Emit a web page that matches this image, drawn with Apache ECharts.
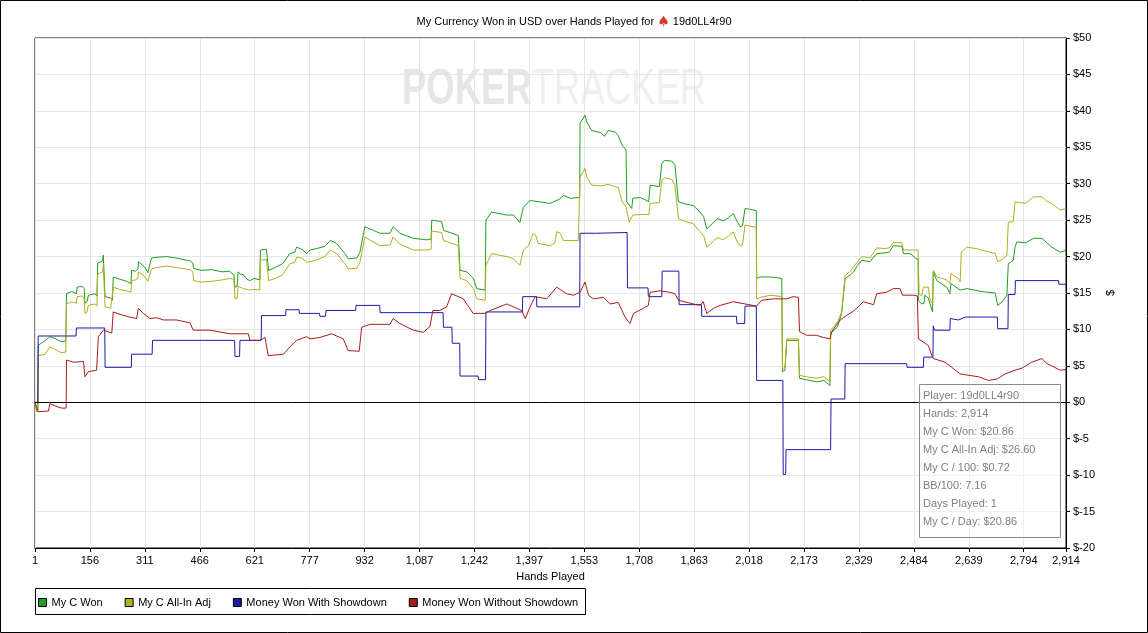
<!DOCTYPE html>
<html lang="en">
<head>
<meta charset="UTF-8">
<title>My Currency Won in USD over Hands Played</title>
<script src="https://cdn.jsdelivr.net/npm/echarts@6/dist/echarts.min.js"></script>
<style>
  html, body { margin: 0; padding: 0; background: #fff; }
  #chart { width: 1148px; height: 633px; }
</style>
</head>
<body>
<div id="chart"></div>
<script>
// hand number / running total in USD
const myCWon = [[1,0],[6,-1.3],[9,-1.0],[10,7.8],[30,8.5],[43,9.0],[60,8.7],[75,8.3],[88,8.4],[90,14.9],[105,15.2],[118,14.9],[120,15.8],[135,15.9],[140,15.6],[142,13.6],[148,13.8],[152,14.7],[170,14.9],[176,14.6],[178,19.1],[192,19.4],[194,20.2],[197,20.0],[199,14.5],[215,14.3],[220,14.0],[222,17.2],[240,16.9],[260,16.6],[272,16.3],[274,18.1],[285,18.0],[292,18.3],[293,19.3],[310,18.6],[320,17.8],[322,17.7],[330,19.8],[345,19.9],[373,20.0],[400,19.8],[440,19.4],[447,19.1],[449,18.4],[470,18.1],[500,18.2],[530,17.9],[550,18.0],[563,17.5],[566,15.8],[572,15.9],[575,17.9],[582,17.6],[590,17.5],[600,16.9],[608,16.7],[620,17.0],[636,16.8],[638,20.9],[655,21.0],[659,20.9],[661,18.1],[680,18.5],[700,19.0],[721,20.4],[735,20.6],[740,21.3],[755,21.0],[769,20.4],[778,20.9],[797,21.1],[820,21.4],[835,22.2],[845,22.0],[853,21.8],[877,20.4],[886,19.7],[910,19.8],[919,20.6],[933,24.1],[957,23.6],[976,23.2],[1004,23.2],[1013,24.1],[1032,23.2],[1070,22.5],[1108,22.3],[1120,22.4],[1122,25.0],[1150,24.8],[1155,23.6],[1197,22.9],[1200,22.8],[1202,18.1],[1221,17.9],[1240,17.0],[1249,15.6],[1273,15.4],[1275,25.0],[1291,26.1],[1334,25.7],[1353,25.7],[1371,24.7],[1381,26.8],[1400,27.7],[1456,27.3],[1484,27.9],[1494,28.4],[1513,28.0],[1540,28.1],[1541,38.3],[1555,39.4],[1560,38.5],[1574,37.3],[1600,37.0],[1610,36.5],[1620,37.3],[1640,37.1],[1649,36.6],[1660,35.3],[1671,34.6],[1673,27.5],[1687,26.6],[1690,28.0],[1710,28.1],[1725,27.8],[1735,27.5],[1739,29.8],[1765,29.6],[1772,32.8],[1780,33.2],[1800,33.1],[1809,32.6],[1819,27.5],[1840,27.2],[1861,27.0],[1880,26.1],[1890,25.5],[1899,23.8],[1910,24.3],[1918,24.7],[1930,25.2],[1945,24.9],[1960,25.3],[1974,25.9],[1985,24.8],[1993,24.1],[2000,24.2],[2007,26.6],[2020,26.5],[2039,26.3],[2040,17.0],[2050,17.2],[2080,17.2],[2111,17.0],[2113,4.2],[2120,4.4],[2125,8.5],[2158,8.5],[2161,3.3],[2180,3.1],[2210,2.8],[2230,3.0],[2247,2.3],[2249,9.4],[2260,10.0],[2268,10.3],[2280,12.2],[2290,17.0],[2305,17.5],[2314,17.9],[2325,18.8],[2337,19.5],[2360,19.3],[2379,20.4],[2400,20.5],[2415,20.6],[2426,21.5],[2450,21.4],[2455,20.4],[2475,20.4],[2488,19.8],[2496,19.6],[2497,14.0],[2506,13.5],[2513,13.6],[2515,14.7],[2525,14.3],[2530,13.5],[2537,12.4],[2539,17.9],[2549,16.7],[2577,15.8],[2586,14.9],[2589,16.3],[2615,15.4],[2634,15.6],[2676,15.2],[2714,15.0],[2721,13.3],[2734,13.8],[2747,14.7],[2751,19.0],[2765,19.5],[2770,21.3],[2775,22.0],[2800,21.9],[2822,22.5],[2846,22.5],[2860,21.9],[2874,21.3],[2897,20.6],[2914,20.86]];

const myCAllInAdj = [[1,0],[6,-1.3],[9,-1.0],[10,6.4],[30,6.6],[43,7.6],[60,7.2],[75,6.8],[88,6.9],[90,13.5],[105,13.8],[118,13.6],[120,14.5],[135,14.6],[140,14.3],[142,12.2],[148,12.4],[152,13.3],[170,13.5],[176,13.2],[178,17.6],[192,17.9],[194,18.8],[197,18.6],[199,13.1],[215,12.9],[220,12.7],[222,15.8],[240,15.5],[260,15.3],[272,15.1],[274,16.7],[285,16.8],[292,17.0],[293,17.9],[310,17.3],[320,16.6],[322,16.5],[330,18.3],[345,18.5],[373,18.7],[400,18.5],[440,18.2],[447,17.9],[449,16.7],[470,16.5],[500,16.6],[530,16.8],[550,17.0],[563,16.9],[566,14.2],[572,14.3],[575,15.9],[590,15.6],[608,15.4],[620,15.5],[636,15.4],[638,19.5],[655,19.6],[659,19.5],[661,16.7],[680,17.0],[700,17.5],[721,19.0],[735,19.2],[740,19.9],[755,19.8],[769,19.2],[778,19.3],[800,19.6],[820,20.0],[835,20.9],[853,20.4],[877,19.0],[886,18.3],[910,18.4],[919,19.2],[933,22.7],[957,22.0],[976,21.5],[1004,21.6],[1013,22.7],[1032,21.7],[1070,20.9],[1108,20.9],[1120,21.0],[1122,23.5],[1150,23.3],[1155,22.2],[1197,21.5],[1200,21.4],[1202,17.0],[1221,16.7],[1240,15.6],[1249,14.2],[1273,14.0],[1275,18.8],[1291,20.4],[1334,20.0],[1353,19.7],[1371,18.8],[1381,20.9],[1395,21.5],[1409,23.2],[1415,23.0],[1423,21.8],[1456,21.5],[1470,21.9],[1475,23.4],[1485,23.2],[1494,22.2],[1536,22.2],[1540,22.3],[1541,30.9],[1555,32.1],[1560,30.9],[1574,29.8],[1600,29.7],[1620,29.9],[1640,29.6],[1649,29.5],[1660,27.5],[1671,26.8],[1680,24.7],[1690,25.7],[1725,25.8],[1735,25.7],[1739,27.3],[1765,27.4],[1772,30.5],[1780,30.8],[1800,30.6],[1809,29.8],[1819,25.2],[1840,24.8],[1861,24.5],[1880,23.4],[1890,22.9],[1899,21.3],[1910,21.7],[1918,22.2],[1930,22.6],[1945,22.3],[1960,22.8],[1974,23.4],[1985,22.0],[1993,21.5],[2000,21.6],[2007,24.3],[2020,24.2],[2039,24.0],[2040,14.2],[2050,14.4],[2080,14.7],[2111,14.5],[2113,4.6],[2120,4.8],[2125,8.7],[2158,8.7],[2161,3.7],[2180,3.5],[2210,3.3],[2230,3.5],[2247,2.8],[2249,9.9],[2260,10.5],[2268,11.0],[2280,12.4],[2290,17.4],[2305,18.0],[2314,18.6],[2325,19.3],[2337,20.0],[2360,19.8],[2379,21.2],[2400,21.1],[2415,21.2],[2426,21.9],[2450,21.9],[2455,20.9],[2475,20.9],[2496,20.9],[2499,14.9],[2506,14.6],[2511,15.8],[2525,15.8],[2530,14.0],[2537,13.5],[2539,18.1],[2549,17.2],[2577,16.8],[2586,16.3],[2589,17.7],[2610,17.0],[2615,16.5],[2618,20.6],[2634,21.3],[2660,21.1],[2676,20.9],[2714,20.4],[2721,19.3],[2734,19.6],[2747,20.2],[2751,24.7],[2765,24.8],[2770,27.5],[2800,27.3],[2822,28.2],[2846,28.2],[2860,27.6],[2874,27.3],[2897,26.4],[2914,26.6]];

const wonWithShowdown = [[1,0],[9,0],[10,9.1],[117,9.1],[118,10.2],[198,10.2],[199,4.8],[273,4.8],[274,6.6],[332,6.6],[333,8.5],[565,8.5],[566,6.3],[579,6.3],[580,8.5],[640,8.5],[641,11.9],[709,11.9],[710,12.7],[747,12.7],[748,12.2],[805,12.2],[806,11.8],[822,11.8],[823,12.6],[907,12.6],[908,13.3],[975,13.3],[976,12.3],[1154,12.3],[1155,10.3],[1179,10.3],[1180,8.1],[1201,8.1],[1202,3.6],[1253,3.6],[1254,3.1],[1274,3.1],[1275,12.4],[1378,12.4],[1379,14.5],[1418,14.5],[1419,13.1],[1540,13.1],[1541,23.2],[1585,23.2],[1586,23.3],[1674,23.3],[1675,15.7],[1733,15.7],[1734,14.5],[1772,14.5],[1773,18.0],[1820,18.0],[1821,13.4],[1884,13.4],[1885,11.8],[1983,11.8],[1984,10.8],[2006,10.8],[2007,13.2],[2039,13.2],[2040,3.0],[2114,3.0],[2115,-9.9],[2122,-9.9],[2123,-6.5],[2249,-6.5],[2250,0.45],[2289,0.45],[2290,5.3],[2464,5.3],[2465,4.8],[2511,4.8],[2512,6.2],[2538,6.2],[2539,10.5],[2542,9.9],[2586,9.9],[2587,11.5],[2610,11.3],[2630,11.7],[2720,11.7],[2721,10.1],[2750,10.1],[2751,14.8],[2770,14.8],[2771,16.7],[2893,16.7],[2894,16.2],[2914,16.2]];

const wonWithoutShowdown = [[1,0],[10,-1.3],[39,-1.2],[43,-0.2],[58,-0.5],[76,-0.8],[89,-0.8],[90,5.8],[110,5.5],[138,5.6],[142,3.5],[152,4.2],[175,4.4],[180,9.0],[194,9.9],[218,9.5],[222,12.4],[245,12.0],[269,11.7],[288,11.5],[293,12.9],[307,12.2],[326,11.5],[345,11.6],[364,11.3],[401,11.3],[439,10.9],[448,9.9],[495,9.9],[552,9.4],[604,9.4],[608,8.5],[636,8.5],[651,8.9],[660,6.4],[703,6.6],[721,7.6],[740,8.5],[769,9.0],[778,8.7],[806,8.9],[839,9.4],[872,8.7],[886,7.1],[917,7.0],[924,10.3],[948,10.7],[1004,10.7],[1013,11.5],[1032,10.8],[1070,9.9],[1098,9.6],[1117,10.4],[1125,12.6],[1145,12.6],[1164,13.1],[1178,14.9],[1211,14.2],[1239,12.2],[1273,12.2],[1287,12.6],[1334,13.5],[1376,12.6],[1386,11.5],[1400,13.1],[1414,14.5],[1447,14.2],[1475,15.8],[1503,14.9],[1522,14.7],[1541,15.1],[1555,16.5],[1565,14.7],[1579,14.2],[1607,14.4],[1626,13.5],[1649,13.7],[1668,11.7],[1682,10.8],[1692,12.2],[1720,12.9],[1734,13.3],[1739,15.1],[1767,15.3],[1795,15.1],[1809,14.9],[1819,14.0],[1861,13.5],[1880,13.3],[1889,13.8],[1899,12.2],[1918,12.9],[1937,13.3],[1974,13.8],[2007,13.5],[2040,13.2],[2054,14.0],[2087,14.2],[2125,14.2],[2143,14.5],[2158,14.4],[2161,9.7],[2181,9.2],[2209,9.2],[2228,8.9],[2247,8.7],[2252,9.7],[2276,11.3],[2294,11.9],[2313,12.5],[2327,13.1],[2341,13.8],[2370,13.4],[2379,14.9],[2407,15.1],[2426,15.6],[2445,15.6],[2452,14.7],[2483,14.7],[2494,14.6],[2497,8.7],[2510,8.3],[2525,7.8],[2535,6.4],[2540,6.0],[2572,5.5],[2591,4.8],[2615,3.9],[2640,3.7],[2667,3.5],[2695,3.0],[2720,3.2],[2742,3.9],[2770,4.4],[2790,4.7],[2817,5.5],[2846,6.0],[2860,5.3],[2874,5.0],[2897,4.4],[2914,4.5]];

const seriesNames = ['My C Won', 'My C All-In Adj', 'Money Won With Showdown', 'Money Won Without Showdown'];
const seriesColors = ['#1f9f1f', '#b2ae1e', '#1c1ca6', '#a61c1c'];

const handTicks = [1, 156, 311, 466, 621, 777, 932, 1087, 1242, 1397, 1553, 1708, 1863, 2018, 2173, 2329, 2484, 2639, 2794, 2914];
const tickStep = 155.2;
const lastHand = 2914;

const infoLines = ['Player: 19d0LL4r90', 'Hands: 2,914', 'My C Won: $20.86', 'My C All-In Adj: $26.60',
  'My C / 100: $0.72', 'BB/100: 7.16', 'Days Played: 1', 'My C / Day: $20.86'];

const FONT = '"Liberation Sans", Arial, sans-serif';

function withCommas(n) {
  return String(n).replace(/\B(?=(\d{3})+(?!\d))/g, ',');
}

// axis runs from 0 so the tick step can start at min; shift hands by one
function toAxis(points) {
  return points.map(p => [p[0] - 1, p[1]]);
}

let chart = echarts.init(document.getElementById('chart'));

let infoBox = [{
  type: 'rect',
  shape: { x: 919.5, y: 384.5, width: 141, height: 153 },
  style: { fill: 'rgba(255,255,255,0.35)', stroke: '#8a8a8a', lineWidth: 1 },
  silent: true, z: 100
}];
infoLines.forEach((t, i) => {
  infoBox.push({
    type: 'text',
    x: 923, y: 396 + i * 17.96,
    style: { text: t, fill: '#808080', font: '11px ' + FONT, textVerticalAlign: 'middle' },
    silent: true, z: 101
  });
});

let option = {
  backgroundColor: '#fff',
  animation: false,
  title: {
    text: '{t|My Currency Won in USD over Hands Played for }{s|♠}{t| 19d0LL4r90}',
    left: 'center',
    top: 10,
    textStyle: {
      fontWeight: 'normal',
      rich: {
        t: { fontFamily: FONT, fontSize: 11, fontWeight: 'normal', color: '#000' },
        s: { fontFamily: '"DejaVu Sans", sans-serif', fontSize: 14, fontWeight: 'normal', color: '#d63a2e' }
      }
    }
  },
  legend: {
    data: seriesNames,
    left: 38,
    top: 597,
    padding: 0,
    itemWidth: 8,
    itemHeight: 8,
    itemGap: 22,
    icon: 'rect',
    itemStyle: { borderColor: '#000', borderWidth: 1 },
    textStyle: { fontFamily: FONT, fontSize: 11, color: '#000' },
    selectedMode: false
  },
  grid: {
    left: 35, right: 82, top: 38, bottom: 85,
    show: true, borderColor: '#000', borderWidth: 1,
    backgroundColor: 'transparent'
  },
  xAxis: {
    type: 'value',
    min: 0,
    max: lastHand - 1,
    interval: tickStep,
    name: 'Hands Played',
    nameLocation: 'middle',
    nameGap: 23,
    nameTextStyle: { fontFamily: FONT, fontSize: 11, color: '#000' },
    axisLine: { onZero: false, lineStyle: { color: '#000' } },
    axisTick: { show: true, length: 4, lineStyle: { color: '#000' } },
    axisLabel: {
      fontFamily: FONT, fontSize: 11, color: '#000', margin: 7,
      showMinLabel: true, showMaxLabel: true,
      formatter: function (v) {
        if (v >= lastHand - 1) return withCommas(handTicks[handTicks.length - 1]);
        return withCommas(handTicks[Math.round(v / tickStep)]);
      }
    },
    splitLine: { show: true, lineStyle: { color: '#e6e6e6' } }
  },
  yAxis: {
    type: 'value',
    position: 'right',
    min: -20,
    max: 50,
    interval: 5,
    name: '$',
    nameLocation: 'middle',
    nameGap: 32,
    nameTextStyle: { fontFamily: FONT, fontSize: 11, color: '#000' },
    axisLine: { show: true, onZero: false, lineStyle: { color: '#000' } },
    axisTick: { show: true, length: 4, lineStyle: { color: '#000' } },
    axisLabel: {
      fontFamily: FONT, fontSize: 11, color: '#000', margin: 7,
      formatter: v => '$' + v
    },
    splitLine: { show: true, lineStyle: { color: '#e6e6e6' } }
  },
  graphic: [
    {
      type: 'text',
      x: 402, y: 65,
      scaleX: 0.73,
      style: {
        text: '{p|POKER}{t|TRACKER}',
        rich: {
          p: { font: 'bold 50px ' + FONT, fill: '#e6e6e6' },
          t: { font: '50px ' + FONT, fill: '#efefef' }
        }
      },
      silent: true, z: -10
    },
    {
      type: 'rect',
      shape: { x: 35.5, y: 588.5, width: 550, height: 26 },
      style: { fill: 'none', stroke: '#000', lineWidth: 1 },
      silent: true
    },
    {
      type: 'rect',
      shape: { x: 0.5, y: 0.5, width: 1147, height: 632 },
      style: { fill: 'none', stroke: '#000', lineWidth: 1 },
      silent: true
    }
  ].concat(infoBox),
  series: [
    {
      name: seriesNames[0], type: 'line', data: toAxis(myCWon),
      showSymbol: false, color: seriesColors[0], lineStyle: { width: 1 },
      markLine: {
        silent: true, symbol: 'none', label: { show: false },
        lineStyle: { color: '#000', type: 'solid', width: 1 },
        data: [{ yAxis: 0 }]
      }
    },
    {
      name: seriesNames[1], type: 'line', data: toAxis(myCAllInAdj),
      showSymbol: false, color: seriesColors[1], lineStyle: { width: 1 }
    },
    {
      name: seriesNames[2], type: 'line', data: toAxis(wonWithShowdown),
      showSymbol: false, color: seriesColors[2], lineStyle: { width: 1 }
    },
    {
      name: seriesNames[3], type: 'line', data: toAxis(wonWithoutShowdown),
      showSymbol: false, color: seriesColors[3], lineStyle: { width: 1 }
    }
  ]
};

chart.setOption(option);
</script>
</body>
</html>
